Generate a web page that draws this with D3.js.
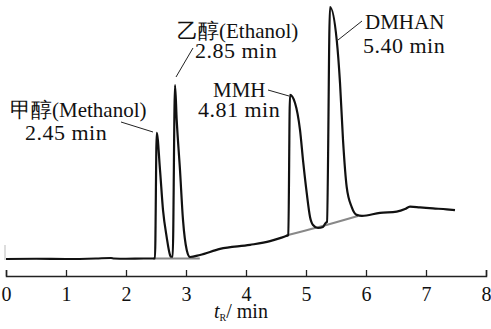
<!DOCTYPE html>
<html>
<head>
<meta charset="utf-8">
<script src="https://cdn.jsdelivr.net/npm/d3@7"></script>
<style>
  body { margin: 0; background: #fff; }
  svg text { font-family: "Liberation Serif", "DejaVu Serif", serif; fill: #111; }
</style>
</head>
<body>
<svg id="chart" width="491" height="329"></svg>
<script>
// retention time (min) and detector signal (% of the DMHAN peak)
var times = [0, 0.5, 1.0, 1.5, 1.75, 1.8, 2.0, 2.3, 2.47,
  2.483, 2.512, 2.567, 2.617, 2.678, 2.733, 2.745,
  2.778, 2.817, 2.845, 2.9, 2.95, 3.012, 3.067,
  3.233, 3.567, 4.067, 4.4, 4.567, 4.667,
  4.705, 4.733, 4.817, 4.9, 4.955, 5.012, 5.067, 5.117, 5.2, 5.283, 5.328,
  5.35, 5.4, 5.512, 5.567, 5.617, 5.678, 5.762, 5.845, 5.933,
  6.233, 6.512, 6.65, 6.733, 6.9, 7.117, 7.345, 7.483];
var signal = [0, 0.1, 0, 0.2, 0.4, 0.2, 0.1, 0.2, 0.2,
  0.2, 50.1, 35.3, 19.4, 8.7, 1.6, 0.9,
  0.9, 69.0, 55.2, 35.3, 15.5, 3.6, 0.8,
  1.6, 4.0, 5.6, 7.1, 8.3, 9.1,
  9.5, 65.1, 61.9, 51.2, 38.1, 26.2, 16.7, 13.5, 12.3, 12.7, 14.3,
  14.7, 100, 86.9, 69.8, 47.2, 28.6, 20.6, 17.5, 17.1,
  18.3, 18.8, 19.8, 20.8, 20.5, 20.1, 19.7, 19.4];

// grey integration baselines under the peaks
var baseTimes1 = [2.45, 3.23];
var baseSignal1 = [0.2, 0.2];
var baseTimes2 = [4.667, 5.2, 5.867];
var baseSignal2 = [9.3, 12.6, 17.1];

var xTicks = [0, 1, 2, 3, 4, 5, 6, 7, 8];

var peakNames = ["甲醇(Methanol)", "乙醇(Ethanol)", "MMH", "DMHAN"];
var peakTimes = ["2.45 min", "2.85 min", "4.81 min", "5.40 min"];

function drawChart() {
  var svg = d3.select("#chart");
  var serif = '"Liberation Serif", "DejaVu Serif", serif';

  var x = d3.scaleLinear().domain([0, 8]).range([6, 486]);
  var y = d3.scaleLinear().domain([0, 100]).range([259, 7]);

  var line = d3.line()
    .x(function (d) { return x(d[0]); })
    .y(function (d) { return y(d[1]); })
    .curve(d3.curveMonotoneX);

  // axis
  var axis = d3.axisBottom(x)
    .tickValues(xTicks)
    .tickSize(-6)
    .tickPadding(11)
    .tickFormat(d3.format("d"));

  var gx = svg.append("g")
    .attr("transform", "translate(0,276)")
    .call(axis);
  gx.attr("font-family", serif);
  gx.select(".domain").attr("stroke", "#222").attr("stroke-width", 1.5);
  gx.selectAll(".tick line").attr("stroke", "#222").attr("stroke-width", 1.3);
  gx.selectAll(".tick text")
    .attr("font-size", 20)
    .style("font-family", serif)
    .attr("fill", "#111");

  // little stub of the signal axis at the left
  svg.append("line")
    .attr("x1", 5).attr("x2", 5).attr("y1", 245).attr("y2", 260)
    .attr("stroke", "#bbb").attr("stroke-width", 1);

  var title = svg.append("text")
    .attr("x", 214).attr("y", 318)
    .attr("font-size", 20)
    .style("font-family", serif);
  title.append("tspan").attr("font-style", "italic").text("t");
  title.append("tspan").attr("font-size", 10).attr("dy", 3).text("R");
  title.append("tspan").attr("dy", -3).text("/ min");

  // baselines
  var b1 = d3.zip(baseTimes1, baseSignal1);
  var b2 = d3.zip(baseTimes2, baseSignal2);
  [b1, b2].forEach(function (b) {
    svg.append("path")
      .attr("d", line(b))
      .attr("fill", "none")
      .attr("stroke", "#888")
      .attr("stroke-width", 2);
  });

  // chromatogram
  svg.append("path")
    .attr("d", line(d3.zip(times, signal)))
    .attr("fill", "none")
    .attr("stroke", "#111")
    .attr("stroke-width", 2.2)
    .attr("stroke-linejoin", "round");

  // peak labels
  var labels = [
    { x1: 10, y1: 117, x2: 25, y2: 140, lead: [[121, 122], [153, 132]] },
    { x1: 177, y1: 38, x2: 195, y2: 58, lead: [[193, 48], [176, 77]] },
    { x1: 213, y1: 97, x2: 198, y2: 117, lead: [[268, 90], [289, 96]] },
    { x1: 365, y1: 29, x2: 363, y2: 53, lead: [[362, 21], [338, 40]] }
  ];

  labels.forEach(function (l, i) {
    svg.append("text").attr("x", l.x1).attr("y", l.y1)
      .attr("font-size", 21).style("font-family", serif).text(peakNames[i]);
    svg.append("text").attr("x", l.x2).attr("y", l.y2)
      .attr("font-size", 22).attr("letter-spacing", 0.5)
      .style("font-family", serif).text(peakTimes[i]);
    svg.append("line")
      .attr("x1", l.lead[0][0]).attr("y1", l.lead[0][1])
      .attr("x2", l.lead[1][0]).attr("y2", l.lead[1][1])
      .attr("stroke", "#222").attr("stroke-width", 1);
  });
}

drawChart();
</script>
</body>
</html>
